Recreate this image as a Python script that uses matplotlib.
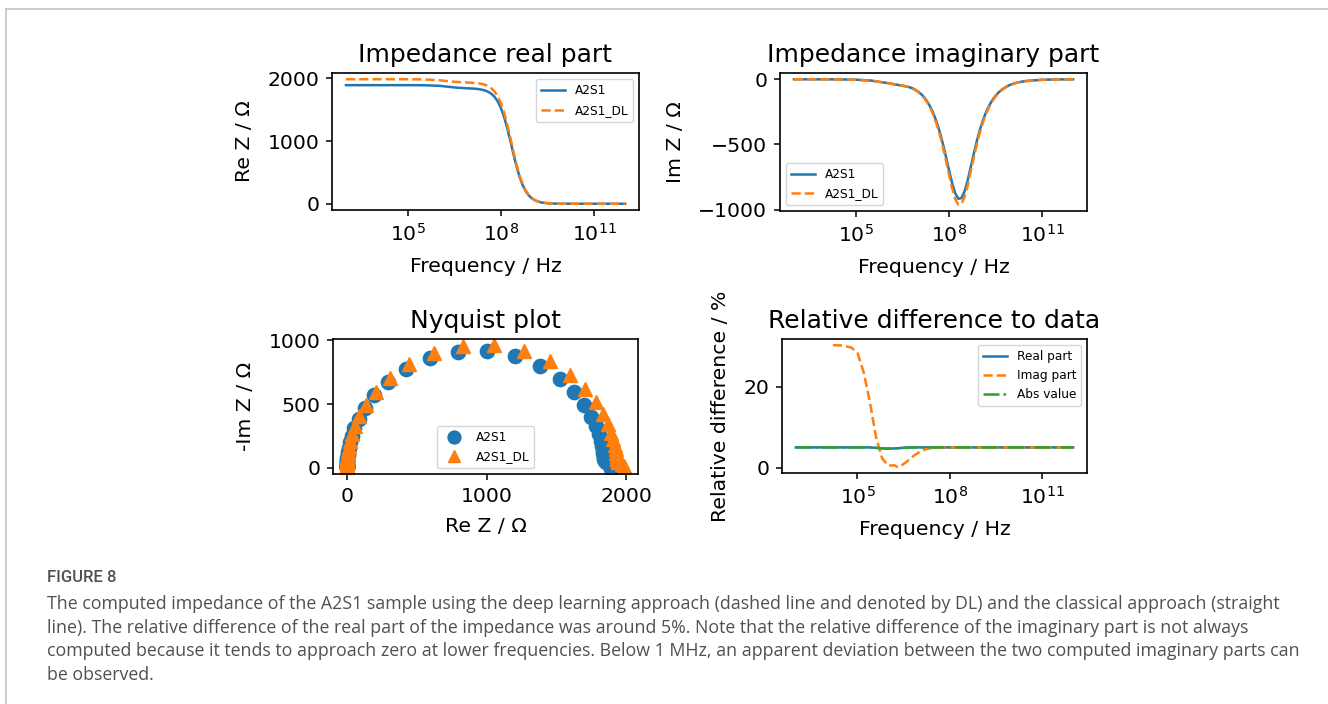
import numpy as np
import matplotlib
matplotlib.use("Agg")
import matplotlib.pyplot as plt
from matplotlib.lines import Line2D
from matplotlib.ticker import LogFormatterMathtext, NullLocator, FixedLocator

# ---------------- data ----------------
log_freq = [3.0, 3.5, 4.0, 4.5, 5.0, 5.5, 6.0, 6.5, 6.6, 6.7, 6.8, 6.9, 7.0, 7.1, 7.2,
            7.3, 7.4, 7.5, 7.6, 7.7, 7.8, 7.9, 8.0, 8.1, 8.2, 8.3, 8.4, 8.5, 8.6, 8.7,
            8.8, 8.9, 9.0, 9.1, 9.2, 9.3, 9.4, 9.5, 9.6, 9.7, 9.8, 9.9, 10.0, 10.1,
            10.2, 10.3, 10.4, 10.5, 11.0, 11.5, 12.0]

re_a2s1 = [1890, 1890, 1890, 1890, 1889.9, 1888.8, 1879.9, 1853.8, 1849.4, 1845.9,
           1843.0, 1840.6, 1838.1, 1835.1, 1831.2, 1825.3, 1816.4, 1802.5, 1781.1,
           1748.4, 1698.8, 1625.8, 1522.0, 1382.3, 1206.7, 1004.5, 793.8, 595.7,
           426.8, 294.5, 197.5, 129.8, 84.1, 53.9, 34.4, 21.9, 13.9, 8.8, 5.5, 3.5,
           2.2, 1.4, 0.9, 0.6, 0.35, 0.22, 0.14, 0.09, 0.01, 0.0, 0.0]

im_a2s1 = [-0.0, -0.1, -0.3, -1.1, -3.3, -10.4, -28.4, -49.1, -53.5, -59.3, -67.4,
           -78.5, -93.5, -113.2, -138.8, -171.4, -212.4, -263.5, -326.7, -402.5,
           -491.5, -591.6, -696.8, -796.2, -874.8, -916.6, -911.7, -861.0, -777.1,
           -674.9, -569.7, -471.3, -384.3, -310.4, -249.2, -199.3, -159.1, -126.7,
           -100.8, -80.2, -63.7, -50.7, -40.2, -32.0, -25.4, -20.2, -16.0, -12.7,
           -4.0, -1.3, -0.4]

re_dl = [1984.5, 1984.5, 1984.5, 1984.5, 1984.4, 1981.4, 1968.3, 1943.7, 1940.0,
         1937.3, 1935.2, 1932.6, 1930.0, 1926.9, 1922.8, 1916.6, 1907.2, 1892.6,
         1870.2, 1835.8, 1783.7, 1707.1, 1598.1, 1451.4, 1267.0, 1054.7, 833.5,
         625.5, 448.1, 309.2, 207.4, 136.3, 88.3, 56.6, 36.1, 23.0, 14.6, 9.2, 5.8,
         3.7, 2.3, 1.5, 0.9, 0.6, 0.37, 0.23, 0.15, 0.09, 0.01, 0.0, 0.0]

im_dl = [-0.0, -0.13, -0.39, -1.4, -4.2, -11.6, -28.5, -49.5, -54.2, -60.5, -69.2,
         -80.9, -96.9, -117.7, -144.9, -179.3, -222.6, -276.4, -343.0, -422.6,
         -516.1, -621.2, -731.6, -836.0, -918.5, -962.4, -957.3, -904.1, -816.0,
         -708.6, -598.2, -494.9, -403.5, -325.9, -261.7, -209.3, -167.1, -133.0,
         -105.8, -84.2, -66.9, -53.2, -42.2, -33.6, -26.7, -21.2, -16.8, -13.3,
         -4.2, -1.3, -0.42]

rel_log_freq = [3.0, 3.5, 4.0, 4.2, 4.5, 4.8, 5.0, 5.2, 5.4, 5.6, 5.8, 6.0, 6.2, 6.3,
                6.4, 6.6, 6.8, 7.0, 7.2, 7.4, 7.6, 8.0, 8.5, 9.0, 9.5, 10.0, 10.5,
                11.0, 11.5, 12.0]
rel_real = [5.0, 5.0, 5.0, 5.0, 5.0, 5.0, 5.0, 5.0, 5.0, 4.9, 4.75, 4.7, 4.75, 4.8,
            4.85, 4.95, 5.0, 5.0, 5.0, 5.0, 5.0, 5.0, 5.0, 5.0, 5.0, 5.0, 5.0, 5.0,
            5.0, 5.0]
rel_imag = [np.nan, np.nan, np.nan, 30.2, 30.1, 29.6, 28.3, 23.5, 16.3, 7.6, 2.3, 0.5,
            0.6, 0.2, 0.4, 1.5, 2.8, 3.8, 4.5, 4.85, 5.0, 5.0, 5.0, 5.0, 5.0, 5.0,
            5.0, 5.0, 5.0, 5.0]
rel_abs = [5.0, 5.0, 5.0, 5.0, 5.0, 5.0, 5.0, 5.0, 5.0, 4.9, 4.77, 4.72, 4.76, 4.8,
           4.86, 4.95, 5.0, 5.0, 5.0, 5.0, 5.0, 5.0, 5.0, 5.0, 5.0, 5.0, 5.0, 5.0,
           5.0, 5.0]

series_labels = ["A2S1", "A2S1_DL"]
rel_labels = ["Real part", "Imag part", "Abs value"]
freq_ticks = [1e5, 1e8, 1e11]

caption_title = "FIGURE 8"
caption_lines = [
    "The computed impedance of the A2S1 sample using the deep learning approach (dashed line and denoted by DL) and the classical approach (straight",
    "line). The relative difference of the real part of the impedance was around 5%. Note that the relative difference of the imaginary part is not always",
    "computed because it tends to approach zero at lower frequencies. Below 1 MHz, an apparent deviation between the two computed imaginary parts can",
    "be observed.",
]

# ---------------- style ----------------
W, H = 1328, 704
plt.rcParams.update({
    "font.family": ["DejaVu Sans"],
    "axes.linewidth": 1.2,
    "xtick.major.size": 4.2,
    "ytick.major.size": 4.2,
    "xtick.major.width": 1.1,
    "ytick.major.width": 1.1,
    "xtick.major.pad": 5,
    "ytick.major.pad": 5,
    "xtick.labelsize": 14.7,
    "ytick.labelsize": 14.7,
    "axes.labelsize": 14.7,
    "axes.labelpad": 9.5,
    "axes.titlesize": 18,
    "axes.titlepad": 8,
    "legend.fontsize": 8.7,
})
C_BLUE, C_ORANGE, C_GREEN = "#1f77b4", "#ff7f0e", "#2ca02c"
LW = 1.8

fig = plt.figure(figsize=(W / 100, H / 100), dpi=100)


def box(l, t, r, b):
    return [l / W, 1 - b / H, (r - l) / W, (b - t) / H]


freq = 10 ** np.array(log_freq)
rel_freq = 10 ** np.array(rel_log_freq)


def freq_axis(ax):
    ax.set_xscale("log")
    ax.xaxis.set_major_locator(FixedLocator(freq_ticks))
    ax.xaxis.set_major_formatter(LogFormatterMathtext())
    ax.xaxis.set_minor_locator(NullLocator())
    ax.set_xlabel("Frequency / Hz", labelpad=9)


# real part
ax1 = fig.add_axes(box(332, 73, 639, 210))
ax1.plot(freq, re_a2s1, color=C_BLUE, lw=LW, label=series_labels[0])
ax1.plot(freq, re_dl, color=C_ORANGE, lw=LW, ls="--", label=series_labels[1])
freq_axis(ax1)
ax1.set_yticks([0, 1000, 2000])
ax1.set_ylabel("Re Z / Ω")
ax1.set_title("Impedance real part")
ax1.legend(loc="upper right", labelspacing=0.6)

# imaginary part
ax2 = fig.add_axes(box(780, 73, 1087, 211))
ax2.plot(freq, im_a2s1, color=C_BLUE, lw=LW, label=series_labels[0])
ax2.plot(freq, im_dl, color=C_ORANGE, lw=LW, ls="--", label=series_labels[1])
freq_axis(ax2)
ax2.set_yticks([-1000, -500, 0])
ax2.set_ylabel("Im Z / Ω")
ax2.set_title("Impedance imaginary part")
ax2.legend(loc="lower left")

# Nyquist
ax3 = fig.add_axes(box(333, 339, 638, 474))
ax3.plot(re_a2s1, -np.array(im_a2s1), ls="none", marker="o", ms=10.3,
         color=C_BLUE, label=series_labels[0])
ax3.plot(re_dl, -np.array(im_dl), ls="none", marker="^", ms=10.3,
         color=C_ORANGE, label=series_labels[1])
ax3.set_xticks([0, 1000, 2000])
ax3.set_yticks([0, 500, 1000])
ax3.set_xlabel("Re Z / Ω", labelpad=8)
ax3.set_ylabel("-Im Z / Ω")
ax3.set_title("Nyquist plot")
ax3.legend(loc="lower center", markerscale=0.9)

# relative difference
ax4 = fig.add_axes(box(782, 339, 1087, 473))
ax4.plot(rel_freq, rel_real, color=C_BLUE, lw=LW, label=rel_labels[0])
ax4.plot(rel_freq, rel_imag, color=C_ORANGE, lw=LW, ls="--", label=rel_labels[1])
ax4.plot(rel_freq, rel_abs, color=C_GREEN, lw=LW, ls="-.", label=rel_labels[2])
freq_axis(ax4)
ax4.set_yticks([0, 20])
ax4.set_ylabel("Relative difference / %")
ax4.set_title("Relative difference to data")
ax4.legend(loc="upper right")

# frame lines
frame_col = "#c4c4c4"
fig.add_artist(Line2D([6 / W, 1.0], [1 - 9 / H, 1 - 9 / H], color=frame_col, lw=1.2,
                      transform=fig.transFigure))
fig.add_artist(Line2D([6 / W, 6 / W], [1 - 9 / H, 0.0], color=frame_col, lw=1.2,
                      transform=fig.transFigure))

# caption
cap_col = "#505050"
fig.text(47 / W, 1 - 578 / H, caption_title, fontsize=12, color=cap_col,
         family=["Roboto", "DejaVu Sans"], fontweight="medium",
         va="center", ha="left")
for i, line in enumerate(caption_lines):
    y = 604 + i * 23.6
    fig.text(47 / W, 1 - y / H, line, fontsize=12.75, color=cap_col,
             family=["Open Sans", "DejaVu Sans"], va="center", ha="left")

fig.savefig("out.png", dpi=100)
